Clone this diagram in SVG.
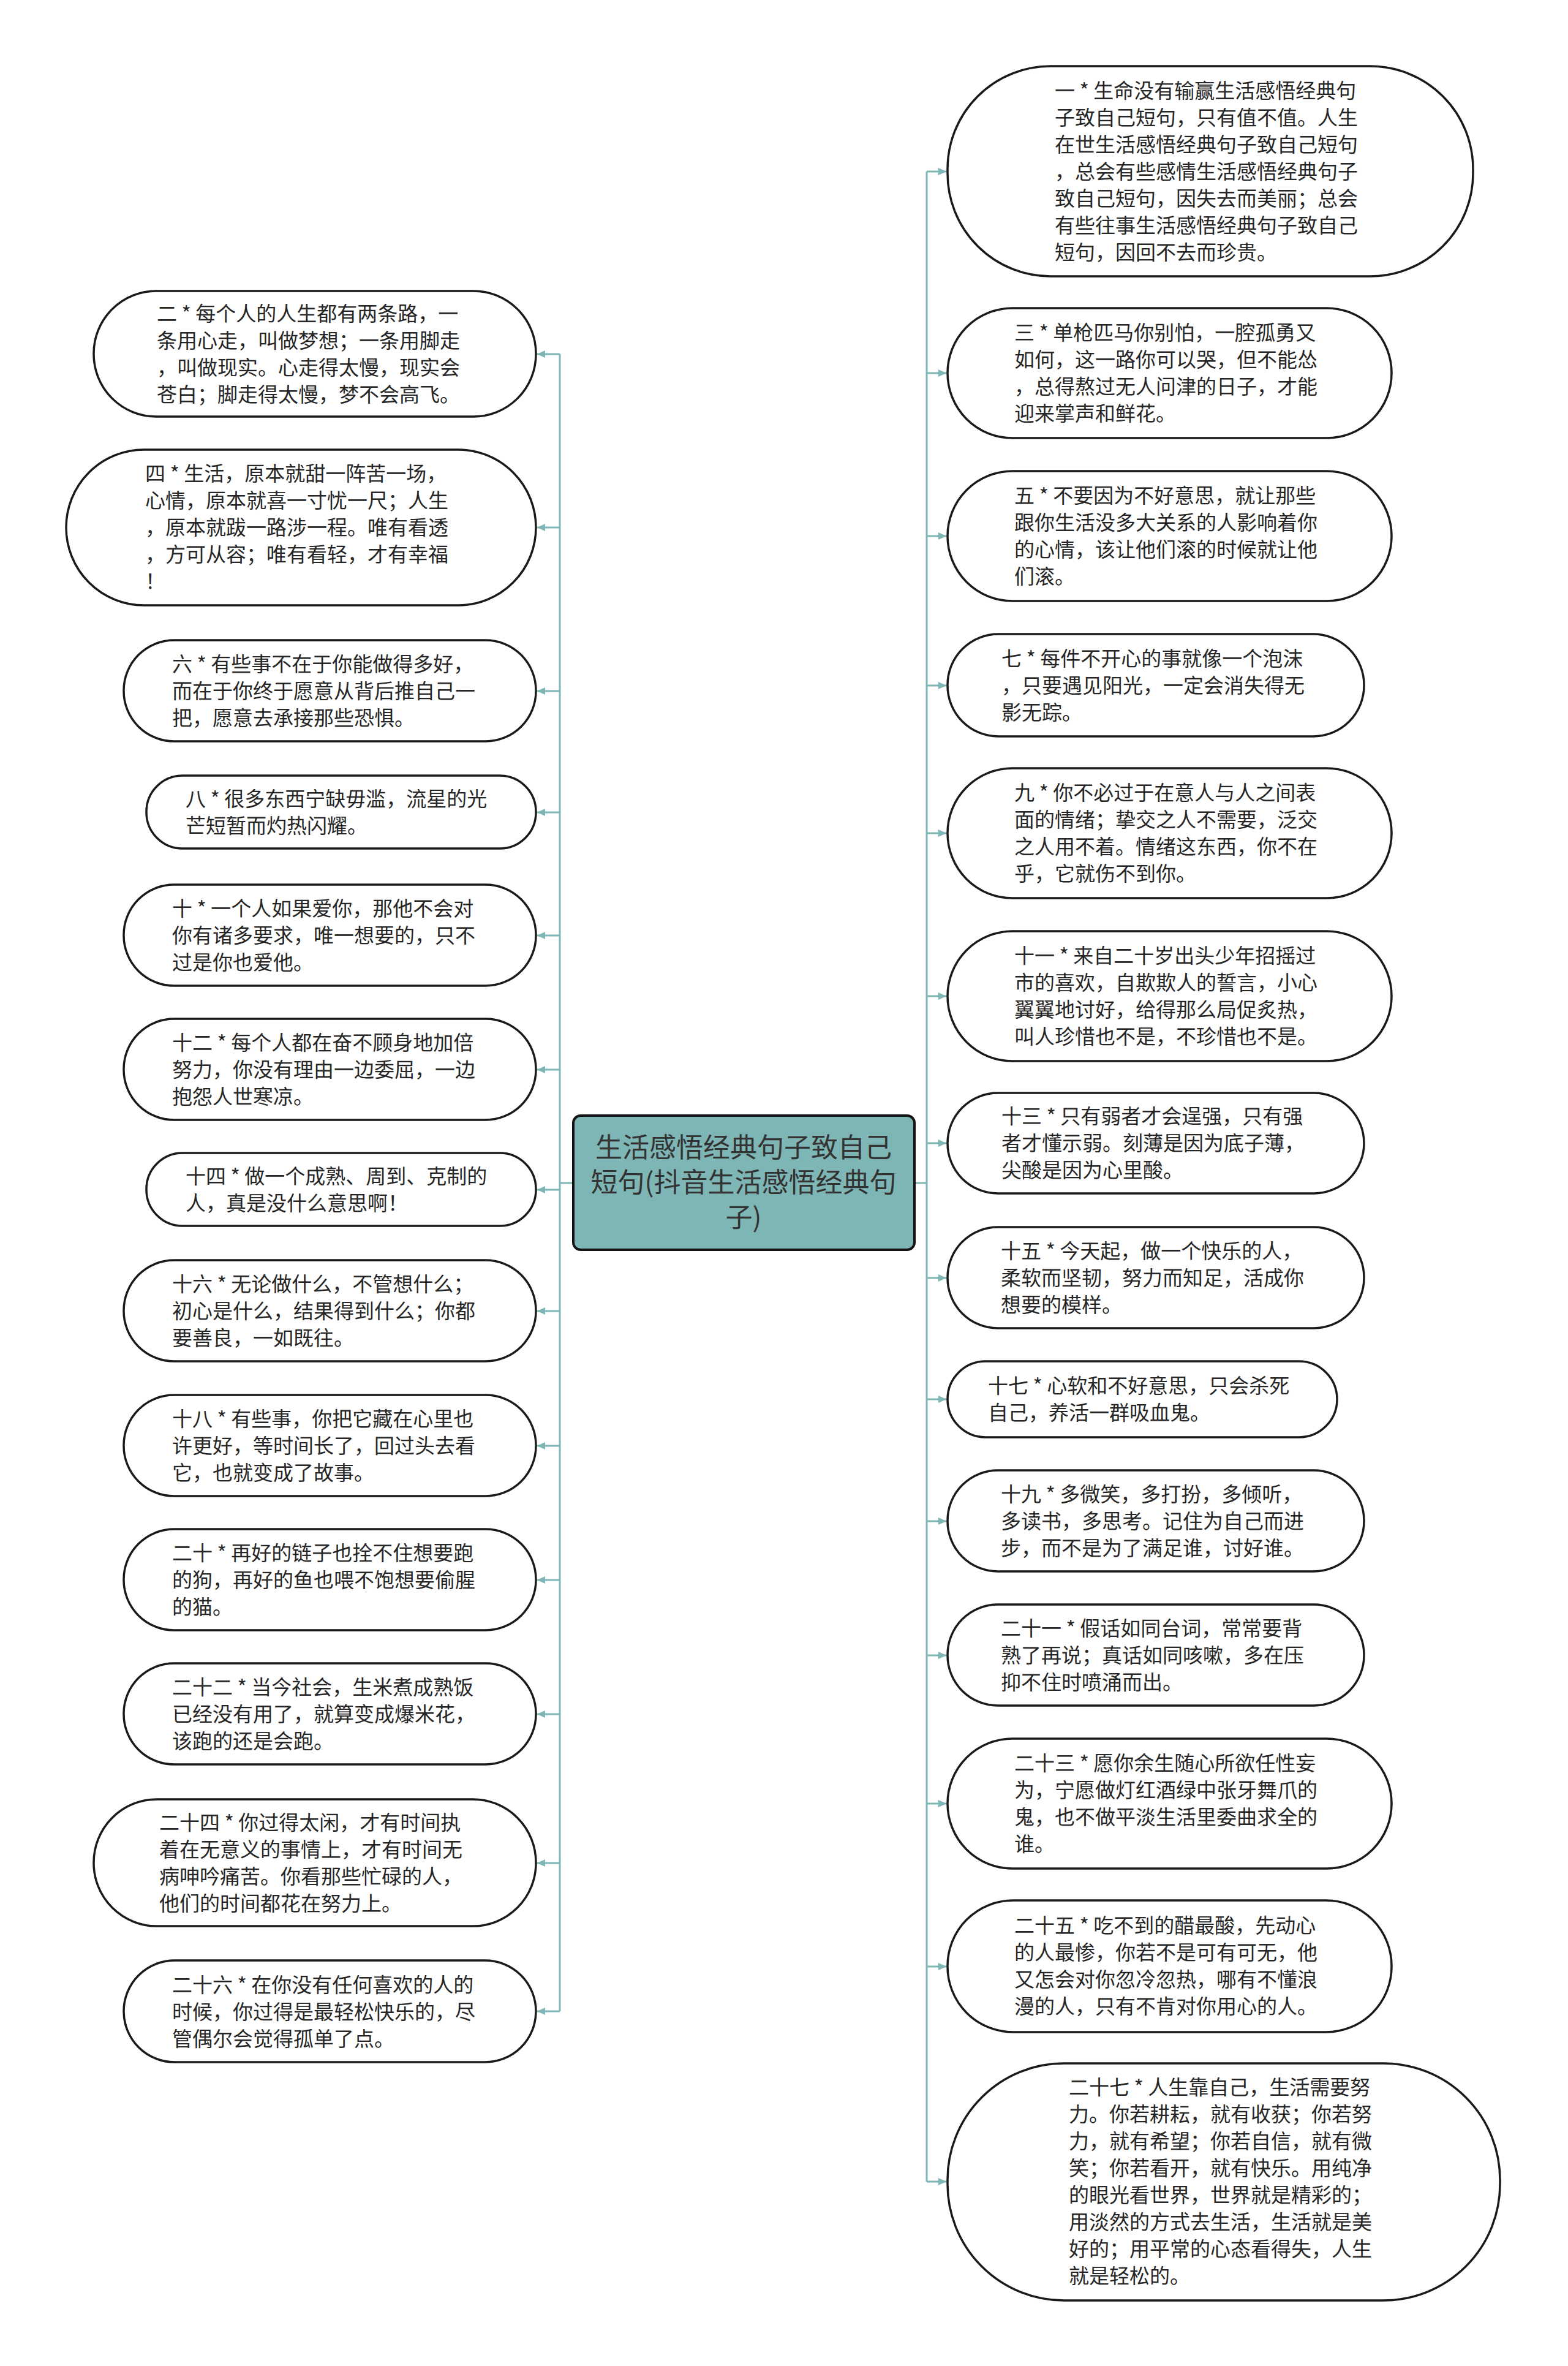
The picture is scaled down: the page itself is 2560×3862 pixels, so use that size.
<svg xmlns="http://www.w3.org/2000/svg" width="2560" height="3862" viewBox="0 0 2560 3862">
<style>
.bg{fill:#ffffff}
.n{fill:#ffffff;stroke:#1a1a1a;stroke-width:3.5}
.c{fill:#7eb5b5;stroke:#141414;stroke-width:4}
.t{font-family:"Noto Sans CJK SC","Noto Sans",sans-serif;font-size:33px;fill:#262626}
.ct{font-family:"Noto Sans CJK SC","Noto Sans",sans-serif;font-size:44px;fill:#333333;text-anchor:middle}
.e{fill:none;stroke:#7eb5b5;stroke-width:3}
.a{fill:none;stroke:#7eb5b5;stroke-width:3;marker-end:url(#arr)}
</style>
<defs>
<marker id="arr" markerUnits="userSpaceOnUse" markerWidth="14" markerHeight="14" refX="13" refY="7" orient="auto">
<path d="M0,1 L13,7 L0,13 z" fill="#7eb5b5"/>
</marker>
</defs>
<rect class="bg" x="0" y="0" width="2560" height="3862"/>

<g id="connectors">
<path class="e" d="M936,1931 H914 M914,578 V3283"/>
<path class="e" d="M1493,1931 H1513 M1513,280 V3561"/>
<path class="a" d="M914,578 H877"/>
<path class="a" d="M914,861 H877"/>
<path class="a" d="M914,1128 H877"/>
<path class="a" d="M914,1326 H877"/>
<path class="a" d="M914,1527 H877"/>
<path class="a" d="M914,1746 H877"/>
<path class="a" d="M914,1942 H877"/>
<path class="a" d="M914,2140 H877"/>
<path class="a" d="M914,2360 H877"/>
<path class="a" d="M914,2579 H877"/>
<path class="a" d="M914,2798 H877"/>
<path class="a" d="M914,3041 H877"/>
<path class="a" d="M914,3283 H877"/>
<path class="a" d="M1513,280 H1545"/>
<path class="a" d="M1513,609 H1545"/>
<path class="a" d="M1513,875 H1545"/>
<path class="a" d="M1513,1119 H1545"/>
<path class="a" d="M1513,1360 H1545"/>
<path class="a" d="M1513,1626 H1545"/>
<path class="a" d="M1513,1866 H1545"/>
<path class="a" d="M1513,2086 H1545"/>
<path class="a" d="M1513,2284 H1545"/>
<path class="a" d="M1513,2483 H1545"/>
<path class="a" d="M1513,2702 H1545"/>
<path class="a" d="M1513,2944 H1545"/>
<path class="a" d="M1513,3210 H1545"/>
<path class="a" d="M1513,3561 H1545"/>
</g>

<g id="center">
<rect class="c" x="936" y="1821" width="557" height="219" rx="12"/>
<text class="ct" x="1214" y="1889">生活感悟经典句子致自己</text>
<text class="ct" x="1214" y="1946">短句(抖音生活感悟经典句</text>
<text class="ct" x="1214" y="2003">子)</text>
</g>

<g id="n2">
<rect class="n" x="153" y="475" width="722" height="205" rx="102"/>
<text class="t" x="256" y="524">二 * 每个人的人生都有两条路，一</text>
<text class="t" x="256" y="568">条用心走，叫做梦想；一条用脚走</text>
<text class="t" x="256" y="612">，叫做现实。心走得太慢，现实会</text>
<text class="t" x="256" y="656">苍白；脚走得太慢，梦不会高飞。</text>
</g>
<g id="n4">
<rect class="n" x="108" y="734" width="767" height="254" rx="127"/>
<text class="t" x="237" y="785">四 * 生活，原本就甜一阵苦一场，</text>
<text class="t" x="237" y="829">心情，原本就喜一寸忧一尺；人生</text>
<text class="t" x="237" y="873">，原本就跋一路涉一程。唯有看透</text>
<text class="t" x="237" y="917">，方可从容；唯有看轻，才有幸福</text>
<text class="t" x="237" y="961">！</text>
</g>
<g id="n6">
<rect class="n" x="202" y="1045" width="673" height="165" rx="82"/>
<text class="t" x="281" y="1096">六 * 有些事不在于你能做得多好，</text>
<text class="t" x="281" y="1140">而在于你终于愿意从背后推自己一</text>
<text class="t" x="281" y="1184">把，愿意去承接那些恐惧。</text>
</g>
<g id="n8">
<rect class="n" x="239" y="1266" width="636" height="119" rx="59"/>
<text class="t" x="303" y="1316">八 * 很多东西宁缺毋滥，流星的光</text>
<text class="t" x="303" y="1360">芒短暂而灼热闪耀。</text>
</g>
<g id="n10">
<rect class="n" x="202" y="1444" width="673" height="165" rx="82"/>
<text class="t" x="281" y="1495">十 * 一个人如果爱你，那他不会对</text>
<text class="t" x="281" y="1539">你有诸多要求，唯一想要的，只不</text>
<text class="t" x="281" y="1583">过是你也爱他。</text>
</g>
<g id="n12">
<rect class="n" x="202" y="1663" width="673" height="165" rx="82"/>
<text class="t" x="281" y="1714">十二 * 每个人都在奋不顾身地加倍</text>
<text class="t" x="281" y="1758">努力，你没有理由一边委屈，一边</text>
<text class="t" x="281" y="1802">抱怨人世寒凉。</text>
</g>
<g id="n14">
<rect class="n" x="239" y="1882" width="636" height="119" rx="59"/>
<text class="t" x="303" y="1932">十四 * 做一个成熟、周到、克制的</text>
<text class="t" x="303" y="1976">人，真是没什么意思啊！</text>
</g>
<g id="n16">
<rect class="n" x="202" y="2057" width="673" height="165" rx="82"/>
<text class="t" x="281" y="2108">十六 * 无论做什么，不管想什么；</text>
<text class="t" x="281" y="2152">初心是什么，结果得到什么；你都</text>
<text class="t" x="281" y="2196">要善良，一如既往。</text>
</g>
<g id="n18">
<rect class="n" x="202" y="2277" width="673" height="165" rx="82"/>
<text class="t" x="281" y="2328">十八 * 有些事，你把它藏在心里也</text>
<text class="t" x="281" y="2372">许更好，等时间长了，回过头去看</text>
<text class="t" x="281" y="2416">它，也就变成了故事。</text>
</g>
<g id="n20">
<rect class="n" x="202" y="2496" width="673" height="165" rx="82"/>
<text class="t" x="281" y="2547">二十 * 再好的链子也拴不住想要跑</text>
<text class="t" x="281" y="2591">的狗，再好的鱼也喂不饱想要偷腥</text>
<text class="t" x="281" y="2635">的猫。</text>
</g>
<g id="n22">
<rect class="n" x="202" y="2715" width="673" height="165" rx="82"/>
<text class="t" x="281" y="2766">二十二 * 当今社会，生米煮成熟饭</text>
<text class="t" x="281" y="2810">已经没有用了，就算变成爆米花，</text>
<text class="t" x="281" y="2854">该跑的还是会跑。</text>
</g>
<g id="n24">
<rect class="n" x="153" y="2937" width="722" height="207" rx="103"/>
<text class="t" x="260" y="2987">二十四 * 你过得太闲，才有时间执</text>
<text class="t" x="260" y="3031">着在无意义的事情上，才有时间无</text>
<text class="t" x="260" y="3075">病呻吟痛苦。你看那些忙碌的人，</text>
<text class="t" x="260" y="3119">他们的时间都花在努力上。</text>
</g>
<g id="n26">
<rect class="n" x="202" y="3200" width="673" height="166" rx="83"/>
<text class="t" x="281" y="3252">二十六 * 在你没有任何喜欢的人的</text>
<text class="t" x="281" y="3296">时候，你过得是最轻松快乐的，尽</text>
<text class="t" x="281" y="3340">管偶尔会觉得孤单了点。</text>
</g>

<g id="n1">
<rect class="n" x="1547" y="108" width="858" height="343" rx="168"/>
<text class="t" x="1722" y="160">一 * 生命没有输赢生活感悟经典句</text>
<text class="t" x="1722" y="204">子致自己短句，只有值不值。人生</text>
<text class="t" x="1722" y="248">在世生活感悟经典句子致自己短句</text>
<text class="t" x="1722" y="292">，总会有些感情生活感悟经典句子</text>
<text class="t" x="1722" y="336">致自己短句，因失去而美丽；总会</text>
<text class="t" x="1722" y="380">有些往事生活感悟经典句子致自己</text>
<text class="t" x="1722" y="424">短句，因回不去而珍贵。</text>
</g>
<g id="n3">
<rect class="n" x="1547" y="503" width="725" height="212" rx="106"/>
<text class="t" x="1656" y="555">三 * 单枪匹马你别怕，一腔孤勇又</text>
<text class="t" x="1656" y="599">如何，这一路你可以哭，但不能怂</text>
<text class="t" x="1656" y="643">，总得熬过无人问津的日子，才能</text>
<text class="t" x="1656" y="687">迎来掌声和鲜花。</text>
</g>
<g id="n5">
<rect class="n" x="1547" y="769" width="725" height="212" rx="106"/>
<text class="t" x="1656" y="821">五 * 不要因为不好意思，就让那些</text>
<text class="t" x="1656" y="865">跟你生活没多大关系的人影响着你</text>
<text class="t" x="1656" y="909">的心情，该让他们滚的时候就让他</text>
<text class="t" x="1656" y="953">们滚。</text>
</g>
<g id="n7">
<rect class="n" x="1547" y="1035" width="680" height="167" rx="83"/>
<text class="t" x="1635" y="1087">七 * 每件不开心的事就像一个泡沫</text>
<text class="t" x="1635" y="1131">，只要遇见阳光，一定会消失得无</text>
<text class="t" x="1635" y="1175">影无踪。</text>
</g>
<g id="n9">
<rect class="n" x="1547" y="1254" width="725" height="212" rx="106"/>
<text class="t" x="1656" y="1306">九 * 你不必过于在意人与人之间表</text>
<text class="t" x="1656" y="1350">面的情绪；挚交之人不需要，泛交</text>
<text class="t" x="1656" y="1394">之人用不着。情绪这东西，你不在</text>
<text class="t" x="1656" y="1438">乎，它就伤不到你。</text>
</g>
<g id="n11">
<rect class="n" x="1547" y="1520" width="725" height="212" rx="106"/>
<text class="t" x="1656" y="1572">十一 * 来自二十岁出头少年招摇过</text>
<text class="t" x="1656" y="1616">市的喜欢，自欺欺人的誓言，小心</text>
<text class="t" x="1656" y="1660">翼翼地讨好，给得那么局促炙热，</text>
<text class="t" x="1656" y="1704">叫人珍惜也不是，不珍惜也不是。</text>
</g>
<g id="n13">
<rect class="n" x="1547" y="1784" width="680" height="164" rx="82"/>
<text class="t" x="1635" y="1834">十三 * 只有弱者才会逞强，只有强</text>
<text class="t" x="1635" y="1878">者才懂示弱。刻薄是因为底子薄，</text>
<text class="t" x="1635" y="1922">尖酸是因为心里酸。</text>
</g>
<g id="n15">
<rect class="n" x="1547" y="2003" width="680" height="165" rx="82"/>
<text class="t" x="1634" y="2054">十五 * 今天起，做一个快乐的人，</text>
<text class="t" x="1634" y="2098">柔软而坚韧，努力而知足，活成你</text>
<text class="t" x="1634" y="2142">想要的模样。</text>
</g>
<g id="n17">
<rect class="n" x="1547" y="2222" width="636" height="124" rx="62"/>
<text class="t" x="1613" y="2274">十七 * 心软和不好意思，只会杀死</text>
<text class="t" x="1613" y="2318">自己，养活一群吸血鬼。</text>
</g>
<g id="n19">
<rect class="n" x="1547" y="2400" width="680" height="165" rx="82"/>
<text class="t" x="1634" y="2451">十九 * 多微笑，多打扮，多倾听，</text>
<text class="t" x="1634" y="2495">多读书，多思考。记住为自己而进</text>
<text class="t" x="1634" y="2539">步，而不是为了满足谁，讨好谁。</text>
</g>
<g id="n21">
<rect class="n" x="1547" y="2619" width="680" height="165" rx="82"/>
<text class="t" x="1634" y="2670">二十一 * 假话如同台词，常常要背</text>
<text class="t" x="1634" y="2714">熟了再说；真话如同咳嗽，多在压</text>
<text class="t" x="1634" y="2758">抑不住时喷涌而出。</text>
</g>
<g id="n23">
<rect class="n" x="1547" y="2838" width="725" height="212" rx="106"/>
<text class="t" x="1656" y="2890">二十三 * 愿你余生随心所欲任性妄</text>
<text class="t" x="1656" y="2934">为，宁愿做灯红酒绿中张牙舞爪的</text>
<text class="t" x="1656" y="2978">鬼，也不做平淡生活里委曲求全的</text>
<text class="t" x="1656" y="3022">谁。</text>
</g>
<g id="n25">
<rect class="n" x="1547" y="3102" width="725" height="215" rx="107"/>
<text class="t" x="1656" y="3155">二十五 * 吃不到的醋最酸，先动心</text>
<text class="t" x="1656" y="3199">的人最惨，你若不是可有可无，他</text>
<text class="t" x="1656" y="3243">又怎会对你忽冷忽热，哪有不懂浪</text>
<text class="t" x="1656" y="3287">漫的人，只有不肯对你用心的人。</text>
</g>
<g id="n27">
<rect class="n" x="1547" y="3368" width="902" height="387" rx="190"/>
<text class="t" x="1745" y="3419">二十七 * 人生靠自己，生活需要努</text>
<text class="t" x="1745" y="3463">力。你若耕耘，就有收获；你若努</text>
<text class="t" x="1745" y="3507">力，就有希望；你若自信，就有微</text>
<text class="t" x="1745" y="3551">笑；你若看开，就有快乐。用纯净</text>
<text class="t" x="1745" y="3595">的眼光看世界，世界就是精彩的；</text>
<text class="t" x="1745" y="3639">用淡然的方式去生活，生活就是美</text>
<text class="t" x="1745" y="3683">好的；用平常的心态看得失，人生</text>
<text class="t" x="1745" y="3727">就是轻松的。</text>
</g>
</svg>
